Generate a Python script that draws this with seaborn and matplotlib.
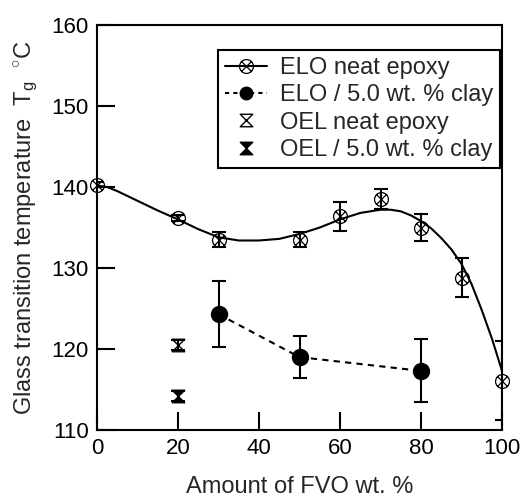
import matplotlib
matplotlib.use("Agg")
import matplotlib.pyplot as plt
import numpy as np
import seaborn as sns
from matplotlib.path import Path
from matplotlib.lines import Line2D

# ELO neat epoxy (measured points)
elo_x = [0, 20, 30, 50, 60, 70, 80, 90, 100]
elo_y = [140.3, 136.2, 133.5, 133.5, 136.4, 138.5, 135.0, 128.8, 116.1]
elo_err = [0.3, 0.4, 0.9, 0.9, 1.8, 1.2, 1.7, 2.4, 4.9]

# smooth fit curve
fit_x = [0, 2.5, 5, 7.5, 10, 15, 20, 25, 30, 35, 40, 45, 50, 55, 60, 65, 70, 72.5, 75, 77.5,
         80, 82.5, 85, 87.5, 90, 92.5, 95, 97.5, 100]
fit_y = [140.2, 140.0, 139.5, 138.9, 138.3, 137.1, 136.0, 134.8, 133.8, 133.4, 133.4, 133.6,
         134.2, 135.0, 136.0, 136.8, 137.2, 137.2, 137.0, 136.5, 135.8, 134.9, 133.7, 132.3,
         130.5, 128.0, 124.8, 121.3, 117.3]

# ELO / 5.0 wt. % clay
clay_x = [30, 50, 80]
clay_y = [124.3, 119.0, 117.3]
clay_err = [4.1, 2.6, 3.9]

# OEL points
oel_x = [20]
oel_y = [120.5]
oel_err = [0.6]
oelc_x = [20]
oelc_y = [114.2]
oelc_err = [0.6]

labels = ["ELO neat epoxy", "ELO / 5.0 wt. % clay", "OEL neat epoxy", "OEL / 5.0 wt. % clay"]

sns.set_style("ticks")
plt.rcParams['font.family'] = ['Liberation Sans', 'DejaVu Sans']
plt.rcParams['mathtext.fontset'] = 'custom'
plt.rcParams['mathtext.rm'] = 'Liberation Sans'
plt.rcParams['mathtext.it'] = 'Liberation Sans'

# markers
circ = Path.unit_circle()
d = 0.68
xmark = Path.make_compound_path(
    circ,
    Path([(-d, -d), (d, d)], [Path.MOVETO, Path.LINETO]),
    Path([(-d, d), (d, -d)], [Path.MOVETO, Path.LINETO]),
)
hourglass = Path([(-1, 1), (1, 1), (-1, -1), (1, -1), (-1, 1)],
                 [Path.MOVETO, Path.LINETO, Path.LINETO, Path.LINETO, Path.CLOSEPOLY])

fig = plt.figure(figsize=(5.26, 5.01), dpi=100)
ax = fig.add_axes([0.1844, 0.1417, 0.77, 0.8083])

lw = 1.5
sns.lineplot(x=fit_x, y=fit_y, color='k', lw=lw, ax=ax, sort=False)
sns.lineplot(x=clay_x, y=clay_y, color='k', lw=lw, ax=ax, dashes=False,
             linestyle=(0, (3, 2.5)))

ekw = dict(fmt='none', ecolor='k', elinewidth=lw, capsize=5, capthick=lw)
ax.errorbar(elo_x, elo_y, yerr=elo_err, **ekw)
ax.errorbar(clay_x, clay_y, yerr=clay_err, **ekw)
ax.errorbar(oel_x, oel_y, yerr=oel_err, **ekw)
ax.errorbar(oelc_x, oelc_y, yerr=oelc_err, **ekw)

ax.plot(elo_x, elo_y, ls='none', marker=xmark, ms=10, mfc='none', mec='k', mew=0.9, clip_on=False)
ax.plot(clay_x, clay_y, ls='none', marker='o', ms=11.5, color='k')
ax.plot(oel_x, oel_y, ls='none', marker=hourglass, ms=9, mfc='none', mec='k', mew=1.0)
ax.plot(oelc_x, oelc_y, ls='none', marker=hourglass, ms=9, mfc='k', mec='k', mew=1.0)

ax.set_xlim(0, 100)
ax.set_ylim(110, 160)
ax.set_xticks([0, 20, 40, 60, 80, 100])
ax.set_yticks([110, 120, 130, 140, 150, 160])
ax.tick_params(direction='in', length=13, width=lw, labelsize=16, pad=6, colors='k')
for s in ax.spines.values():
    s.set_linewidth(lw)
    s.set_color('k')
    s.set_visible(True)

ax.set_xlabel("Amount of FVO wt. %", fontsize=17, labelpad=12)
ax.set_ylabel(r"Glass transition temperature  T$_{\rm g}$  $^{\circ}$C", fontsize=17, labelpad=8)

handles = [
    Line2D([], [], color='k', lw=lw, marker=xmark, ms=10, mfc='none', mec='k', mew=0.9),
    Line2D([], [], color='k', lw=lw, ls=(0, (2, 2)), marker='o', ms=9),
    Line2D([], [], ls='none', marker=hourglass, ms=9, mfc='none', mec='k', mew=1.0),
    Line2D([], [], ls='none', marker=hourglass, ms=9, mfc='k', mec='k', mew=1.0),
]
leg = ax.legend(handles, labels, loc='upper right', bbox_to_anchor=(0.995, 0.938), fontsize=17,
                fancybox=False, framealpha=1, edgecolor='k', handlelength=1.75,
                handletextpad=0.55, labelspacing=0.22, borderpad=0.3, borderaxespad=0)
leg.get_frame().set_linewidth(lw)

fig.savefig("out.png", dpi=100)
